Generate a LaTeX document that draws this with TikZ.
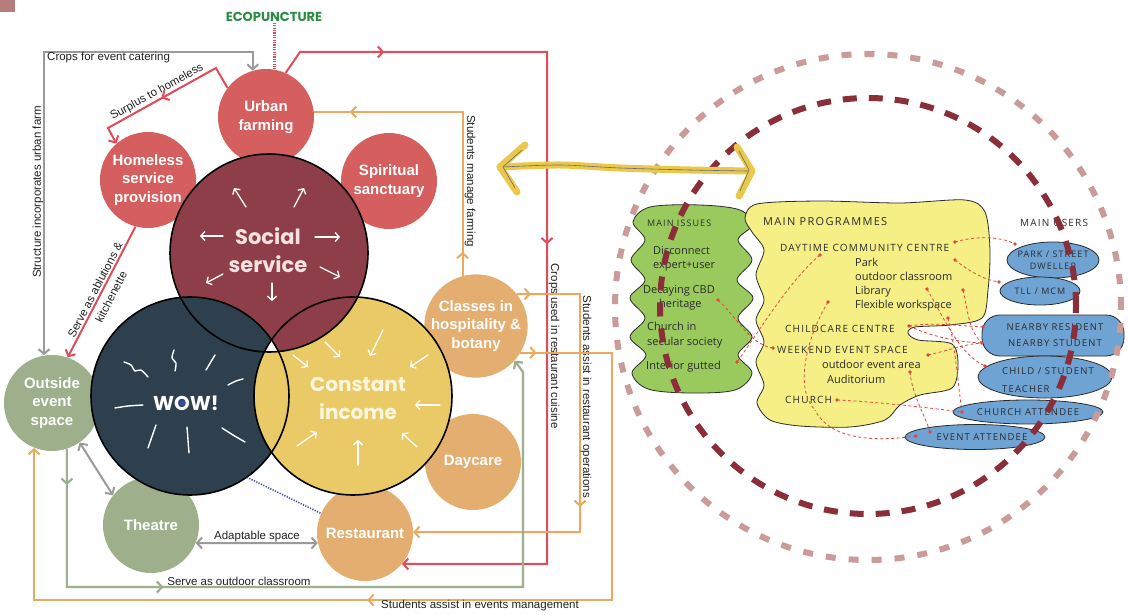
\documentclass[tikz,border=0pt]{standalone}
\usepackage{fontspec}
\setmainfont{Liberation Sans}
\newfontfamily\fancy{Poppins}
\newfontfamily\hand{Open Sans}
\newfontfamily\handcaps{Open Sans}[LetterSpace=12]
\usetikzlibrary{arrows.meta,decorations.markings}
\definecolor{cCorner}{HTML}{B77C7C}
\definecolor{cRed}{HTML}{D55E5F}
\definecolor{cTan}{HTML}{E3AE6F}
\definecolor{cSage}{HTML}{9DB08B}
\definecolor{cSocial}{HTML}{8E3E48}
\definecolor{cWow}{HTML}{2E404D}
\definecolor{cInc}{HTML}{E9CA67}
\definecolor{cSocTxt}{HTML}{F6E2E2}
\definecolor{cIncTxt}{HTML}{FFF7DC}
\definecolor{lGray}{HTML}{9A9A9A}
\definecolor{lRed}{HTML}{DF4E58}
\definecolor{lOr}{HTML}{E9AA5F}
\definecolor{lGreen}{HTML}{9CAF8F}
\definecolor{cEco}{HTML}{2A8C45}
\definecolor{cBlue}{HTML}{3B4BA6}
\definecolor{cOuter}{HTML}{C99B99}
\definecolor{cInner}{HTML}{8A2E3A}
\definecolor{cGreenBlob}{HTML}{9ACA5E}
\definecolor{cYelBlob}{HTML}{F5EF86}
\definecolor{cBlueBlob}{HTML}{6FA3D3}
\definecolor{cArrowY}{HTML}{E9C84C}
\definecolor{cSk}{HTML}{E2473F}
\definecolor{cInk}{HTML}{2B2B2B}
\definecolor{cTxt}{HTML}{222222}
\tikzset{
  barb/.tip={Straight Barb[length=5pt,width=11pt]},
  bub/.style={circle, minimum size=96pt, inner sep=0pt, text=white, align=center,
    font=\bfseries\fontsize{15}{18.5}\selectfont},
  venn/.style={circle, minimum size=198pt, inner sep=0pt},
  lnk/.style={line width=2pt},
  mk/.style={postaction={decorate,decoration={markings,
     mark=at position #1 with {\arrow{Straight Barb[length=5pt,width=11pt]}}}}},
  lbl/.style={font=\fontsize{11.5}{13.5}\selectfont, text=cTxt, inner sep=1pt},
  warr/.style={white, line width=1.3pt, line cap=round, -{Straight Barb[length=4pt,width=9pt]}},
  ray/.style={white, line width=1.4pt, line cap=round},
  hw/.style={font=\hand\fontsize{11}{14.5}\selectfont, text=cInk, inner sep=0pt, anchor=west, align=left},
  hcs/.style={font=\handcaps\fontsize{9}{12}\selectfont, text=cInk, inner sep=0pt},
  hcm/.style={font=\handcaps\fontsize{10}{14}\selectfont, text=cInk, inner sep=0pt},
  hcl/.style={font=\handcaps\fontsize{11}{14}\selectfont, text=cInk, inner sep=0pt},
  blob/.style={draw=cInk, line width=0.8pt},
  sk/.style={cSk, line width=0.8pt, dash pattern=on 3pt off 2.5pt},
}
\begin{document}
\begin{tikzpicture}[x=1pt,y=-1pt]
\useasboundingbox (0,0) rectangle (1128,615);
\fill[white] (0,0) rectangle (1128,615);
\fill[cCorner] (0,0) rectangle (15,12);

% ---------- outer bubbles ----------
\node[bub,fill=cRed] (uf) at (266,117) {Urban\\farming};
\node[bub,fill=cRed] (hsp) at (148,180) {Homeless\\service\\provision};
\node[bub,fill=cRed] (ss) at (389,181) {Spiritual\\sanctuary};
\node[bub,fill=cTan] (cls) at (476,326) {Classes in\\hospitality \&\\botany};
\node[bub,fill=cTan] (day) at (473,462) {Daycare};
\node[bub,fill=cTan] (rest) at (365,533) {Restaurant};
\node[bub,fill=cSage] (oes) at (52,403) {Outside\\event\\space};
\node[bub,fill=cSage] (th) at (151,525) {Theatre};

% ---------- Venn ----------
\node[venn] (soc) at (269,253) {};
\node[venn] (wow) at (190,396) {};
\node[venn] (inc) at (353,396) {};
\fill[cSocial] (soc.center) circle[radius=99pt];
\fill[cWow] (wow.center) circle[radius=99pt];
\fill[cInc] (inc.center) circle[radius=99pt];
\begin{scope}
  \clip (inc.center) circle[radius=99pt];
  \fill[cSocial] (soc.center) circle[radius=99pt];
\end{scope}
\begin{scope}
  \clip (inc.center) circle[radius=99pt];
  \clip (soc.center) circle[radius=99pt];
  \fill[white] (wow.center) circle[radius=99pt];
\end{scope}
\draw[line width=1.6pt] (soc.center) circle[radius=99pt];
\draw[line width=1.6pt] (wow.center) circle[radius=99pt];
\draw[line width=1.6pt] (inc.center) circle[radius=99pt];

\node[font=\fancy\bfseries\fontsize{21}{28}\selectfont, text=cSocTxt, align=center] (tsoc) at (268,250) {Social\\service};
\node[font=\fancy\bfseries\fontsize{20}{28}\selectfont, text=cIncTxt, align=center] (tinc) at (358,398) {Constant\\income};
\node[font=\fancy\bfseries\fontsize{20}{24}\selectfont, text=white] (twow) at (186,403) {WOW!};
\fill[cBlue] (182.5,403) circle[radius=3pt];

% social arrows (outward)
\draw[warr] (246,207) -- (234,188);
\draw[warr] (294,207) -- (304,188);
\draw[warr] (223,236) -- (200,236);
\draw[warr] (315,237) -- (340,237);
\draw[warr] (223,274) -- (206,283);
\draw[warr] (320,267) -- (340,277);
\draw[warr] (272,283) -- (272,301);
% income arrows (inward)
\draw[warr] (325,342) -- (340,357);
\draw[warr] (293,355) -- (308,367);
\draw[warr] (383,330) -- (370,356);
\draw[warr] (428,355) -- (410,367);
\draw[warr] (440,405) -- (415,405);
\draw[warr] (417,447) -- (402,433);
\draw[warr] (358,465) -- (358,440);
\draw[warr] (297,446) -- (317,432);
% WOW rays
\draw[ray] plot[smooth] coordinates {(124,362) (131,365) (135,371) (141,370) (148,377)};
\draw[ray] plot[smooth] coordinates {(174,350) (172,358) (176,363) (175,371)};
\draw[ray] (206,370) -- (215,355);
\draw[ray] plot[smooth] coordinates {(228,385) (236,381) (243,379)};
\draw[ray] plot[smooth] coordinates {(115,408) (128,406) (143,405)};
\draw[ray] (148,448) -- (156,425);
\draw[ray] (187,427) -- (189,453);
\draw[ray] plot[smooth] coordinates {(222,428) (233,435) (245,442)};

% ---------- title ----------
\node[font=\fancy\bfseries\fontsize{13}{15}\selectfont, text=cEco, inner sep=1pt] (eco) at (274,17) {ECOPUNCTURE};
\draw[lRed, line width=3pt, dash pattern=on 1.2pt off 1.2pt] (eco.south) -- (eco.south |- uf.north);

% ---------- connectors ----------
\coordinate (gc) at (44,52);
\draw[lnk,color=lGray,barb-barb] (uf.106) |- (gc) -- (gc |- oes.99);
\node[lbl,anchor=west] (lcrops) at (46,58) {Crops for event catering};
\node[lbl,rotate=90] (lstruct) at (38,192) {Structure incorporates urban farm};

\coordinate (s1) at (216,68);
\coordinate (s2) at (108,128);
\draw[lnk,color=lRed,mk=0.52,-barb] (uf.143) -- (s1) -- (s2) -- (hsp.131);
\node[lbl,rotate=29] (lsur) at (157,92) {Surplus to homeless};

\coordinate (r1) at (300,52);
\coordinate (r2) at (547,52);
\draw[lnk,color=lRed,mk=0.118,mk=0.5,-barb] (uf.66) -- (r1) -- (r2) |- (rest.-40);
\node[lbl,rotate=-90] (lcuis) at (554,346) {Crops used in restaurant cuisine};

\draw[lnk,color=lRed,-barb] (hsp.-105) -- (oes.71);
\node[lbl,rotate=62.6] (labl1) at (95,290) {Serve as ablutions \&};
\node[lbl,rotate=62.6] (labl2) at (111,297) {kitchenette};

\draw[lnk,color=lOr,mk=0.077,mk=0.885] (cls.105) |- (uf.6);
\node[lbl,rotate=-90] (lfarm) at (470,181) {Students manage farming};

\coordinate (o2) at (580,532);
\draw[lnk,color=lOr,mk=0.03,mk=0.59,-barb] (cls.38) -| (o2) -- (rest.1);
\node[lbl,rotate=-90] (lops) at (586,397) {Students assist in restaurant operations};

\coordinate (o3) at (612,600);
\coordinate (o4) at (34,600);
\draw[lnk,color=lOr,mk=0.015,mk=0.546,-barb] (cls.-31) -| (o3) -- (o4) -- (o4 |- oes.-111);
\node[lbl] (levt) at (480,606) {Students assist in events management};

\coordinate (g3) at (523,587);
\coordinate (g4) at (523,372);
\draw[lnk,color=lGreen,line width=2.2pt,mk=0.044,mk=0.285,-barb] (oes.-72) |- (g3) -- (g4) -- (cls.-42);
\node[lbl] (lout) at (239,581) {Serve as outdoor classroom};

\draw[lnk,color=lGray,barb-barb] (oes.-55) -- (th.142);
\draw[lnk,color=lGray,barb-barb] (th.-22) -- (rest.192);
\node[lbl] (ladapt) at (257,537) {Adaptable space};

\draw[cBlue, line width=1.6pt, dash pattern=on 1.2pt off 1.4pt] (wow.-55) -- (rest.156);

% ---------- right sketch ----------
\fill[cGreenBlob] plot[smooth cycle, tension=0.55] coordinates {
 (650,207) (700,205) (740,210) (752,225) (738,240) (752,260) (737,280) (753,298)
 (738,318) (752,337) (738,355) (752,373) (735,390) (690,393) (648,389) (632,373)
 (646,355) (630,337) (645,318) (630,298) (645,280) (631,260) (645,240) (633,222)};
\draw[blob] plot[smooth cycle, tension=0.55] coordinates {
 (650,207) (700,205) (740,210) (752,225) (738,240) (752,260) (737,280) (753,298)
 (738,318) (752,337) (738,355) (752,373) (735,390) (690,393) (648,389) (632,373)
 (646,355) (630,337) (645,318) (630,298) (645,280) (631,260) (645,240) (633,222)};

\fill[cYelBlob] plot[smooth cycle, tension=0.5] coordinates {
 (757,204) (820,201) (900,203) (965,200) (985,212) (990,250) (988,290) (982,318)
 (950,325) (915,327) (908,333) (918,340) (952,344) (958,365) (952,388) (920,395)
 (900,405) (885,420) (850,427) (800,426) (770,420) (757,403) (764,385) (756,362)
 (764,342) (756,320) (764,300) (756,275) (764,250) (752,232) (745,218)};
\draw[blob] plot[smooth cycle, tension=0.5] coordinates {
 (757,204) (820,201) (900,203) (965,200) (985,212) (990,250) (988,290) (982,318)
 (950,325) (915,327) (908,333) (918,340) (952,344) (958,365) (952,388) (920,395)
 (900,405) (885,420) (850,427) (800,426) (770,420) (757,403) (764,385) (756,362)
 (764,342) (756,320) (764,300) (756,275) (764,250) (752,232) (745,218)};

\filldraw[blob,fill=cBlueBlob] (1053,260) ellipse[x radius=46pt, y radius=18pt];
\filldraw[blob,fill=cBlueBlob] (1040,291) ellipse[x radius=40pt, y radius=14pt];
\filldraw[blob,fill=cBlueBlob,rounded corners=18pt] (982,315) rectangle (1124,356);
\filldraw[blob,fill=cBlueBlob] (1045,377) ellipse[x radius=67pt, y radius=21pt];
\filldraw[blob,fill=cBlueBlob] (1028,412) ellipse[x radius=75pt, y radius=12pt];
\filldraw[blob,fill=cBlueBlob] (975,437) ellipse[x radius=70pt, y radius=12.5pt];

% sketch texts
\node[hcs,anchor=west] (mi) at (647,223) {MAIN ISSUES};
\node[hw] (i1) at (653,259) {Disconnect\\expert+user};
\node[hw] (i3) at (643,298) {Decaying CBD\\\hspace*{16pt}heritage};
\node[hw] (i5) at (647,335) {Church in\\secular society};
\node[hw] (i7) at (646,367) {Interior gutted};

\node[hcl,anchor=west] (mp) at (763,222) {MAIN PROGRAMMES};
\node[hcm,anchor=west] (p1) at (780,248) {DAYTIME COMMUNITY CENTRE};
\node[hw,font=\hand\fontsize{11}{14}\selectfont] (p2) at (855,285) {Park\\outdoor classroom\\Library\\Flexible workspace};
\node[hcm,anchor=west] (p6) at (785,329) {CHILDCARE CENTRE};
\node[hcm,anchor=west] (p7) at (777,350) {WEEKEND EVENT SPACE};
\node[hw,font=\hand\fontsize{11}{15}\selectfont] (p8) at (822,372) {outdoor event area\\\hspace*{5pt}Auditorium};
\node[hcm,anchor=west] (p10) at (785,400) {CHURCH};

\node[hcm,anchor=west] (mu) at (1020,223) {MAIN USERS};
\node[hcs,align=center] (u1) at (1053,260) {PARK / STREET\\DWELLER};
\node[hcs] (u2) at (1040,291) {TLL / MCM};
\node[hcs,align=center,font=\handcaps\fontsize{9.5}{16}\selectfont] (u3) at (1055,335) {NEARBY RESIDENT\\NEARBY STUDENT};
\node[hcs,align=left,font=\handcaps\fontsize{9.5}{18}\selectfont] (u4) at (1048,380) {CHILD / STUDENT\\TEACHER};
\node[hcs,font=\handcaps\fontsize{9.5}{12}\selectfont] (u5) at (1028,412) {CHURCH ATTENDEE};
\node[hcs,font=\handcaps\fontsize{9.5}{12}\selectfont] (u6) at (982,437) {EVENT ATTENDEE};

% sketch dashed links
\coordinate (d1) at (955,242); \coordinate (d2) at (1015,244);
\coordinate (d3) at (955,260); \coordinate (d4) at (999,282);
\coordinate (d5) at (927,289); \coordinate (d6) at (985,366);
\coordinate (d7) at (963,290);
\coordinate (d8) at (909,326); \coordinate (d9) at (983,327); \coordinate (d10) at (982,343);
\coordinate (d11) at (928,355);
\coordinate (d12) at (910,372); \coordinate (d13) at (930,432);
\coordinate (d14) at (837,400); \coordinate (d15) at (962,412);
\coordinate (d16) at (916,436);
\coordinate (d17) at (820,255); \coordinate (d18) at (737,362);
\coordinate (d19) at (828,302);
\coordinate (d20) at (718,300); \coordinate (d21) at (773,348);
\coordinate (d22) at (948,318); \coordinate (d23) at (815,410);
\draw[sk] (d1) .. controls (975,236) and (1000,236) .. (d2);
\draw[sk] (d3) .. controls (970,272) and (985,280) .. (d4);
\draw[sk] (d5) .. controls (945,320) and (960,355) .. (d6);
\draw[sk] (d7) .. controls (968,310) and (968,330) .. (d10);
\draw[sk] (d8) .. controls (935,322) and (960,326) .. (d9);
\draw[sk] (d8) .. controls (935,338) and (960,342) .. (d10);
\draw[sk] (d11) .. controls (950,350) and (965,344) .. (d10);
\draw[sk] (d12) .. controls (912,395) and (925,415) .. (d13);
\draw[sk] (d22) .. controls (956,350) and (958,385) .. (d15);
\draw[sk] (d14) .. controls (880,402) and (930,408) .. (d15);
\draw[sk] (d16) .. controls (875,442) and (830,440) .. (d23);
\draw[sk] (d17) .. controls (790,280) and (760,330) .. (d18);
\draw[sk] (d19) .. controls (805,340) and (795,390) .. (d23);
\draw[sk] (d20) .. controls (735,315) and (750,345) .. (d21);
\foreach \p in {d1,d2,d3,d4,d5,d6,d7,d8,d9,d10,d11,d12,d13,d14,d15,d16,d17,d18,d19,d20,d21,d22}
  \fill[cSk] (\p) circle[radius=1.8pt];

% dashed rings
\draw[cOuter, line width=6pt, dash pattern=on 10pt off 13pt] (868,307) circle[radius=253pt];
\draw[cInner, line width=6pt, dash pattern=on 14pt off 12pt] (868,306) circle[radius=208pt];

% yellow double arrow
\draw[cArrowY, line width=7pt, line cap=round, line join=round] plot[smooth] coordinates {(500,167) (560,165) (620,168) (690,170) (752,171)};
\draw[cArrowY, line width=7pt, line cap=round, line join=round] (525,145) -- (500,167) -- (517,192);
\draw[cArrowY, line width=7pt, line cap=round, line join=round] (737,147) -- (752,171) -- (739,196);
\draw[cInk!70, line width=0.6pt] plot[smooth] coordinates {(503,167) (560,165) (620,168) (690,170) (748,171)};
\draw[cInk!70, line width=0.6pt] (522,150) -- (503,167) -- (515,188);
\draw[cInk!70, line width=0.6pt] (739,151) -- (749,170) -- (740,191);
\end{tikzpicture}
\end{document}
